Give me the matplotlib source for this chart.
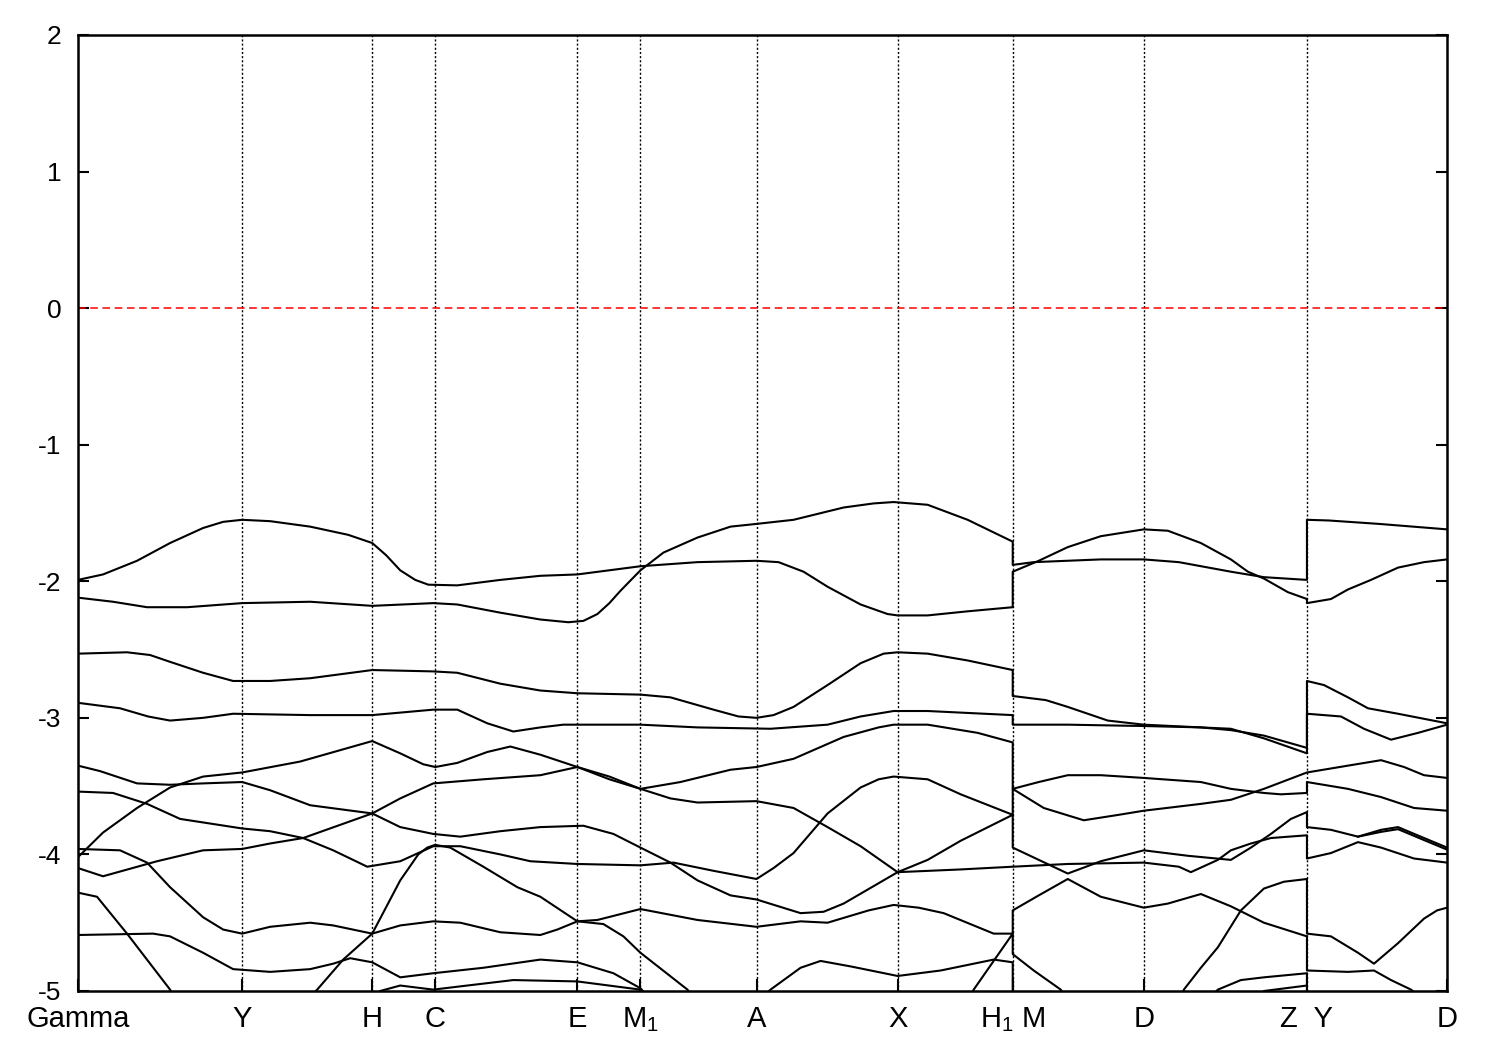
import matplotlib
matplotlib.use("Agg")
import matplotlib.pyplot as plt

plt.rcParams['font.family'] = ['Liberation Sans', 'DejaVu Sans']
plt.rcParams['mathtext.default'] = 'regular'
plt.rcParams['axes.unicode_minus'] = False

# ---------------- data ----------------
kpoint_labels = ["Gamma", "Y", "H", "C", "E", "M$_1$", "A", "X", "H$_1$ M", "D", "Z  Y", "D"]
kpoint_pos = [0, 164, 294, 357, 499, 562, 678, 819, 934, 1065, 1228, 1368]
energy_ticks = [-5, -4, -3, -2, -1, 0, 1, 2]
fermi_level = 0.0

# Block 1: Gamma -> H1  (k, E in eV)
C1 = [(0,-1.99),(25,-1.95),(59,-1.85),(92,-1.72),(125,-1.61),(145,-1.565),(164,-1.55),(192,-1.56),
      (232,-1.60),(270,-1.66),(294,-1.72),(308,-1.81),(322,-1.92),(337,-1.99),(350,-2.025),(379,-2.03),
      (422,-1.99),(462,-1.96),(499,-1.95),(562,-1.89),(619,-1.86),(678,-1.85),(700,-1.86),(725,-1.93),
      (749,-2.04),(782,-2.17),(809,-2.24),(819,-2.25),(849,-2.25),(889,-2.22),(934,-2.19)]
C2 = [(0,-2.12),(35,-2.15),(69,-2.19),(109,-2.19),(164,-2.16),(232,-2.15),(294,-2.18),(355,-2.16),
      (379,-2.17),(422,-2.23),(462,-2.28),(490,-2.30),(505,-2.29),(519,-2.24),(531,-2.16),(542,-2.07),
      (562,-1.92),(585,-1.79),(619,-1.68),(652,-1.60),(678,-1.58),(715,-1.55),(765,-1.46),(795,-1.43),
      (815,-1.42),(849,-1.44),(889,-1.55),(934,-1.71)]
C3 = [(0,-2.53),(49,-2.52),(72,-2.54),(92,-2.59),(125,-2.67),(155,-2.73),(192,-2.73),(232,-2.71),
      (294,-2.65),(355,-2.66),(379,-2.67),(422,-2.75),(462,-2.80),(499,-2.82),(562,-2.83),(592,-2.85),
      (635,-2.94),(660,-2.99),(678,-3.00),(695,-2.98),(715,-2.92),(749,-2.76),(782,-2.60),(805,-2.53),
      (819,-2.52),(849,-2.53),(889,-2.58),(934,-2.65)]
C4 = [(0,-2.89),(42,-2.93),(70,-2.99),(92,-3.02),(125,-3.00),(155,-2.97),(232,-2.98),(294,-2.98),
      (355,-2.94),(379,-2.94),(409,-3.04),(435,-3.10),(462,-3.07),(485,-3.05),(562,-3.05),(619,-3.07),
      (692,-3.08),(749,-3.05),(782,-2.99),(815,-2.95),(849,-2.95),(934,-2.98)]
C5 = [(0,-4.02),(25,-3.84),(59,-3.66),(92,-3.51),(125,-3.43),(164,-3.40),(222,-3.32),(294,-3.17),
      (322,-3.26),(345,-3.34),(357,-3.36),(379,-3.33),(409,-3.25),(432,-3.21),(462,-3.27),(499,-3.36),
      (531,-3.43),(562,-3.52),(592,-3.59),(619,-3.62),(678,-3.61),(715,-3.66),(749,-3.80),(782,-3.94),
      (819,-4.13),(882,-4.11),(934,-4.09)]
C6 = [(0,-3.35),(22,-3.39),(59,-3.48),(92,-3.49),(125,-3.48),(164,-3.47),(192,-3.53),(232,-3.64),
      (294,-3.70),(322,-3.80),(355,-3.85),(382,-3.87),(422,-3.83),(462,-3.80),(505,-3.79),(535,-3.85),
      (562,-3.95),(592,-4.06),(619,-4.19),(652,-4.30),(678,-4.33),(700,-4.38),(722,-4.43),(745,-4.42),
      (765,-4.36),(819,-4.13),(849,-4.04),(882,-3.90),(934,-3.71)]
C7 = [(0,-3.54),(35,-3.55),(69,-3.63),(102,-3.74),(164,-3.81),(192,-3.83),(225,-3.88),(255,-3.97),
      (289,-4.09),(322,-4.05),(355,-3.94),(382,-3.94),(422,-4.00),(452,-4.05),(499,-4.07),(562,-4.08),
      (595,-4.06),(635,-4.12),(678,-4.18),(695,-4.10),(715,-3.99),(749,-3.70),(782,-3.51),(800,-3.45),
      (815,-3.43),(849,-3.45),(882,-3.56),(934,-3.71)]
C8 = [(0,-4.10),(25,-4.16),(79,-4.05),(125,-3.97),(164,-3.96),(192,-3.92),(225,-3.88),(294,-3.70),
      (322,-3.59),(355,-3.48),(405,-3.45),(462,-3.42),(499,-3.36),(531,-3.45),(562,-3.52),(602,-3.47),
      (652,-3.38),(678,-3.36),(715,-3.30),(765,-3.14),(800,-3.07),(815,-3.05),(849,-3.05),(899,-3.11),
      (934,-3.18)]
C9 = [(0,-3.96),(42,-3.97),(69,-4.06),(92,-4.24),(125,-4.46),(145,-4.55),(164,-4.58),(192,-4.53),
      (232,-4.50),(255,-4.52),(294,-4.58),(322,-4.52),(355,-4.49),(382,-4.50),(422,-4.57),(462,-4.59),
      (479,-4.55),(499,-4.49),(519,-4.48),(562,-4.40),(619,-4.48),(678,-4.53),(722,-4.49),(749,-4.50),
      (790,-4.41),(815,-4.37),(840,-4.39),(865,-4.43),(915,-4.58),(934,-4.58)]
C10 = [(0,-4.28),(19,-4.31),(49,-4.58),(92,-4.99),(110,-5.25)]
C11 = [(200,-5.25),(239,-4.99),(265,-4.77),(294,-4.58),(322,-4.19),(340,-4.00),(349,-3.95),(357,-3.93),
       (372,-3.95),(405,-4.09),(439,-4.24),(462,-4.31),(499,-4.49),(525,-4.51),(545,-4.60),(562,-4.72),
       (609,-4.99),(630,-5.2)]
C12 = [(0,-4.59),(75,-4.58),(92,-4.60),(125,-4.72),(155,-4.84),(192,-4.86),(232,-4.84),(255,-4.80),
       (272,-4.76),(294,-4.79),(322,-4.90),(355,-4.87),(405,-4.83),(462,-4.77),(499,-4.79),(535,-4.87),
       (562,-4.98),(590,-5.2)]
C13 = [(290,-5.1),(302,-5.0),(322,-4.96),(355,-4.99),(389,-4.96),(435,-4.92),(499,-4.93),(562,-4.99),
       (590,-5.2)]
C14 = [(660,-5.2),(692,-4.99),(722,-4.83),(742,-4.78),(772,-4.82),(819,-4.89),(862,-4.85),(915,-4.77),
       (934,-4.79)]
C15 = [(880,-5.2),(895,-4.99),(934,-4.58)]

# Block 2: M -> Z
B1 = [(934,-1.93),(960,-1.85),(989,-1.75),(1022,-1.67),(1065,-1.62),(1089,-1.63),(1122,-1.72),
      (1152,-1.84),(1169,-1.93),(1185,-1.98),(1209,-2.08),(1228,-2.13)]
B2 = [(934,-1.88),(955,-1.86),(1022,-1.84),(1065,-1.84),(1100,-1.86),(1152,-1.93),(1185,-1.97),
      (1228,-1.99)]
B3 = [(934,-2.84),(967,-2.87),(989,-2.92),(1029,-3.02),(1065,-3.05),(1122,-3.07),(1152,-3.09),
      (1185,-3.13),(1228,-3.22)]
B4 = [(934,-3.05),(989,-3.05),(1065,-3.06),(1122,-3.07),(1152,-3.08),(1185,-3.15),(1228,-3.26)]
B5 = [(934,-3.52),(960,-3.47),(989,-3.42),(1022,-3.42),(1065,-3.44),(1122,-3.47),(1152,-3.52),
      (1185,-3.55),(1202,-3.56),(1228,-3.55)]
B6 = [(934,-3.52),(965,-3.66),(1005,-3.75),(1040,-3.71),(1065,-3.68),(1122,-3.63),(1152,-3.60),
      (1185,-3.52),(1228,-3.40)]
B7 = [(934,-3.95),(989,-4.14),(1022,-4.05),(1065,-3.97),(1109,-4.01),(1152,-4.04),(1172,-3.95),
      (1192,-3.85),(1212,-3.74),(1228,-3.69)]
B8 = [(934,-4.09),(989,-4.07),(1065,-4.06),(1100,-4.09),(1112,-4.13),(1139,-4.04),(1152,-3.97),
      (1172,-3.92),(1192,-3.88),(1228,-3.86)]
B9 = [(934,-4.41),(960,-4.30),(989,-4.18),(1022,-4.31),(1065,-4.39),(1089,-4.36),(1122,-4.29),
      (1152,-4.38),(1185,-4.50),(1228,-4.60)]
B10 = [(934,-5.5),(1090,-5.3),(1105,-4.99),(1122,-4.83),(1139,-4.68),(1162,-4.41),(1185,-4.25),
       (1205,-4.20),(1228,-4.18)]
B11 = [(934,-4.73),(955,-4.85),(982,-4.99),(1000,-5.2)]
B12 = [(1110,-5.2),(1139,-4.99),(1162,-4.92),(1185,-4.90),(1228,-4.87),(1228,-5.2)]
B13 = [(1170,-5.1),(1185,-5.0),(1228,-4.96)]

# Block 3: Y -> D
D1 = [(1228,-1.55),(1250,-1.555),(1300,-1.58),(1368,-1.62)]
D2 = [(1228,-2.16),(1252,-2.13),(1269,-2.06),(1292,-1.99),(1319,-1.90),(1345,-1.86),(1368,-1.84)]
D3 = [(1228,-2.73),(1245,-2.76),(1269,-2.85),(1289,-2.93),(1319,-2.97),(1368,-3.04)]
D4 = [(1228,-2.97),(1262,-2.99),(1285,-3.08),(1312,-3.16),(1339,-3.11),(1368,-3.05)]
D5 = [(1228,-3.40),(1269,-3.35),(1302,-3.31),(1325,-3.36),(1345,-3.42),(1368,-3.44)]
D6 = [(1228,-3.47),(1269,-3.52),(1302,-3.58),(1335,-3.66),(1368,-3.68)]
D7 = [(1228,-3.80),(1252,-3.82),(1279,-3.87),(1302,-3.82),(1319,-3.80),(1345,-3.88),(1368,-3.95)]
D7b = [(1279,-3.87),(1302,-3.835),(1319,-3.815),(1345,-3.895),(1368,-3.965)]
D8 = [(1228,-4.03),(1252,-3.99),(1279,-3.91),(1302,-3.95),(1335,-4.03),(1368,-4.06)]
D9 = [(1228,-4.58),(1252,-4.60),(1279,-4.72),(1295,-4.80),(1319,-4.65),(1345,-4.47),(1358,-4.41),
      (1368,-4.39)]
D10 = [(1228,-4.85),(1269,-4.86),(1295,-4.85),(1312,-4.92),(1332,-4.99),(1350,-5.1)]

# bands (joined across the path breaks)
bands = [
    C2 + B2 + D1,
    C1 + B1 + D2,
    C3 + B3 + D3,
    C4 + B4 + D4,
    C8 + B5 + D6,
    C7 + B6 + D5,
    C6 + B7 + D7,
    C5 + B8 + D8,
    C9 + B9 + D10,
    C15 + B11,
    C14 + B10 + D9,
    C10, C11, C12, C13, B12, B13, D7b,
]

# ---------------- plot ----------------
fig = plt.figure(figsize=(15, 10.5), dpi=100)
ax = fig.add_axes([0.052, 0.0562, 0.9127, 0.9105])

for k in kpoint_pos[1:-1]:
    ax.axvline(k, color='black', lw=1.0, ls=(0, (1.5, 1.5)), zorder=1)

ax.axhline(fermi_level, color='#ff0000', lw=1.1, ls=(0, (5, 3)), zorder=2)

for b in bands:
    ks = [p[0] for p in b]
    es = [p[1] for p in b]
    ax.plot(ks, es, color='black', lw=1.5, solid_joinstyle='round', zorder=3)

ax.set_xlim(kpoint_pos[0], kpoint_pos[-1])
ax.set_ylim(-5, 2)
ax.set_yticks(energy_ticks)
ax.set_yticklabels([str(t) for t in energy_ticks])
ax.set_xticks(kpoint_pos)
ax.set_xticklabels(kpoint_labels)

ax.tick_params(axis='y', direction='in', length=8, width=1.5, right=True, labelsize=19, pad=12)
ax.tick_params(axis='x', direction='in', length=9, width=1.5, top=False, labelsize=21, pad=26)
for lab in ax.get_xticklabels():
    lab.set_verticalalignment('baseline')
for s in ax.spines.values():
    s.set_linewidth(1.8)

fig.savefig("out.png", dpi=100)
